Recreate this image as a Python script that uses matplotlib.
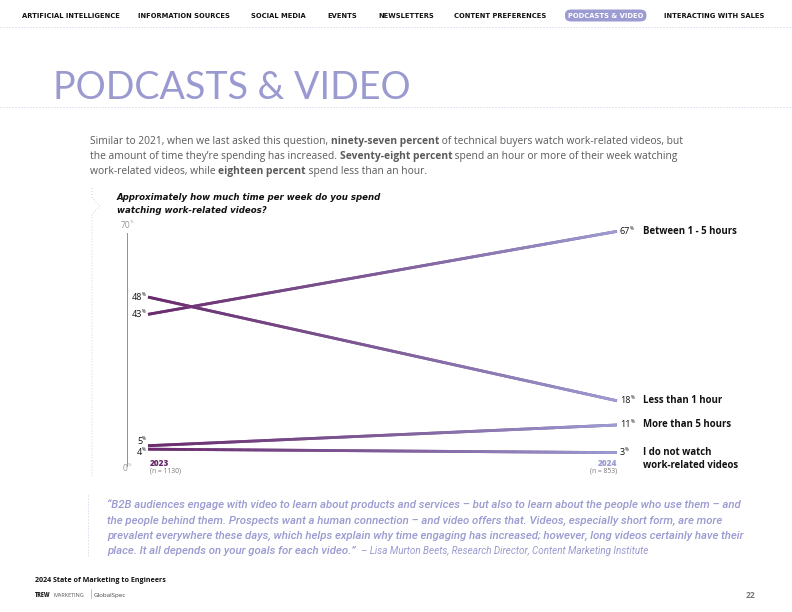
import matplotlib
matplotlib.use("Agg")
import matplotlib.pyplot as plt
import numpy as np
from matplotlib.collections import LineCollection
from matplotlib.colors import LinearSegmentedColormap
from matplotlib.patches import FancyBboxPatch

# data
categories = ["Between 1 - 5 hours", "Less than 1 hour", "More than 5 hours",
              "I do not watch\nwork-related videos"]
values_2023 = [43, 48, 5, 4]
values_2024 = [67, 18, 11, 3]
years = ["2023", "2024"]
sample_sizes = ["(n = 1130)", "(n = 853)"]
nav_items = ["ARTIFICIAL INTELLIGENCE", "INFORMATION SOURCES", "SOCIAL MEDIA", "EVENTS",
             "NEWSLETTERS", "CONTENT PREFERENCES", "PODCASTS & VIDEO", "INTERACTING WITH SALES"]
nav_x = [22, 138, 251, 327, 378, 454, 568, 664]

DARK = "#6a2a6c"
MID = "#7f5c98"
LIGHT = "#9c9cd3"
GRAY = "#5a5a5a"
QUOTE = "#9a9ad1"
W, H = 792, 612

plt.rcParams["font.family"] = ["Open Sans", "DejaVu Sans"]
fig = plt.figure(figsize=(W / 72, H / 72), dpi=72)
renderer = fig.canvas.get_renderer()


def fx(x):
    return x / W


def fy(y):
    return 1 - y / H


def text_runs(x, y, runs, width=None, size=10, **kw):
    """draw (string, weight) runs on one baseline, pixel coords; scale to a target width"""
    arts = [fig.text(fx(x), fy(y), s, fontweight=wt, fontsize=size, va="baseline",
                     ha="left", **kw) for s, wt in runs]
    if width:
        total = sum(a.get_window_extent(renderer).width for a in arts)
        for a in arts:
            a.set_fontsize(size * width / total)
    for a in arts:
        a.set_x(fx(x))
        x += a.get_window_extent(renderer).width
    return arts


def dotted(xs, ys, color="#cfcfe9"):
    fig.add_artist(plt.Line2D([fx(v) for v in xs], [fy(v) for v in ys], color=color,
                              lw=1.0, ls=(0, (1, 2)), transform=fig.transFigure))


# nav bar
nav_font = ["Liberation Sans Narrow", "DejaVu Sans"]
probe = fig.text(0, 0, nav_items[0], fontsize=8, fontweight="bold", family=nav_font)
nav_size = 8 * 98 / probe.get_window_extent(renderer).width
probe.remove()
for name, x in zip(nav_items, nav_x):
    active = name == "PODCASTS & VIDEO"
    t = fig.text(fx(x), fy(18), name, fontsize=nav_size, fontweight="bold", va="baseline",
                 color="white" if active else "#111111", family=nav_font)
    if active:
        bb = t.get_window_extent(renderer)
        fig.add_artist(FancyBboxPatch((fx(bb.x0 - 3), fy(21.5)), (bb.width + 6) / W, 12 / H,
                                      boxstyle="round,pad=0,rounding_size=0.008",
                                      transform=fig.transFigure, fc=LIGHT, ec="none", zorder=0))
dotted([0, W], [27, 27])

# title
text_runs(53, 99, [("PODCASTS & VIDEO", "normal")], width=358, size=36,
          color=QUOTE, family=["Lato", "DejaVu Sans"])
dotted([0, W], [107, 107])

# intro paragraph
a = text_runs(90, 144, [("Similar to 2021, when we last asked this question, ", "normal"),
                        ("ninety-seven percent", "bold"),
                        (" of technical buyers watch work-related videos, but", "normal")],
              width=590, size=10.5, color=GRAY)
bsize = a[0].get_fontsize()
text_runs(90, 159, [("the amount of time they\u2019re spending has increased. ", "normal"),
                    ("Seventy-eight percent", "bold"),
                    (" spend an hour or more of their week watching", "normal")],
          size=bsize, color=GRAY)
text_runs(90, 174, [("work-related videos, while ", "normal"),
                    ("eighteen percent", "bold"),
                    (" spend less than an hour.", "normal")], size=bsize, color=GRAY)

# question
qs = dict(style="italic", color="#111111", family=["DejaVu Sans"])
a = text_runs(117, 200, [("Approximately how much time per week do you spend", "bold")],
              width=266, size=9, **qs)
text_runs(117, 213, [("watching work-related videos?", "bold")],
          size=a[0].get_fontsize(), **qs)

# decorative dotted bracket
dotted([92, 92, 100, 92, 92], [188, 198, 206, 214, 476])

# chart axes: x=0 -> 2023 at 148px, x=1 -> 2024 at 617px ; y=0 at 463px, y=70 at 221px
ax_l, ax_r, ax_t, ax_b = 127, 617, 221, 463
ax = fig.add_axes([fx(ax_l), fy(ax_b), (ax_r - ax_l) / W, (ax_b - ax_t) / H])
x0 = -(148 - 127) / (617 - 148)
ax.set_xlim(x0, 1)
ax.set_ylim(0, 70)
ax.axis("off")

ax.plot([x0, x0], [-1.0, 66.5], color="#888888", lw=0.9, clip_on=False)

cmap = LinearSegmentedColormap.from_list("pv", [DARK, MID, LIGHT])
for v0, v1 in zip(values_2023, values_2024):
    # solid base stroke hides seams between gradient pieces
    ax.plot([0, 1], [v0, v1], color=MID, lw=2.8, solid_capstyle="butt", clip_on=False)
    xs = np.linspace(0, 1, 60)
    ys = v0 + (v1 - v0) * xs
    pts = np.column_stack([xs, ys]).reshape(-1, 1, 2)
    segs = np.concatenate([pts[:-1], pts[1:]], axis=1)
    lc = LineCollection(segs, cmap=cmap, linewidth=2.8, capstyle="butt", clip_on=False)
    lc.set_array(xs[:-1])
    ax.add_collection(lc)


def pct_label(xd, yd, val, side, dy=0.0, color="#111111", size=9):
    num = ax.text(0, 0, str(val), fontsize=size, color=color, va="center")
    pct = ax.text(0, 0, "%", fontsize=size * 0.5, color=color, va="center")
    wn = num.get_window_extent(renderer).width
    wp = pct.get_window_extent(renderer).width
    base = ax.transData.transform((xd, yd))
    by = base[1] + dy
    if side == "left":
        xn = base[0] - 2 - wp - wn
    elif side == "center":
        xn = base[0] - (wn + wp) / 2
    else:
        xn = base[0] + 3
    inv = ax.transData.inverted()
    num.set_position(inv.transform((xn, by)))
    pct.set_position(inv.transform((xn + wn, by + 3)))


# axis end labels
pct_label(x0, 68.7, 70, "center", color="#999999", size=8.5)
pct_label(x0, -1.5, 0, "center", color="#999999", size=8.5)

# 2023 labels, nudged apart where they would collide
order = np.argsort(values_2023)
pix = [ax.transData.transform((0, v))[1] for v in values_2023]
shift = [0.0] * len(values_2023)
for i, j in zip(order[:-1], order[1:]):
    gap = pix[j] - pix[i]
    if gap < 11:
        shift[i] -= (11 - gap) / 2
        shift[j] += (11 - gap) / 2
for v, s in zip(values_2023, shift):
    pct_label(0, v, v, "left", dy=s)

for v, cat in zip(values_2024, categories):
    pct_label(1, v, v, "right")
    multi = "\n" in cat
    ax.annotate(cat, (1, v), xytext=(26, 6 if multi else 0), textcoords="offset points",
                fontsize=9.6, fontweight="bold", color="#111111",
                va="top" if multi else "center", ha="left", linespacing=1.3,
                annotation_clip=False)

# year markers
ax.annotate(years[0], (0, 0), xytext=(2, -0.5), textcoords="offset points", fontsize=8.3,
            fontweight="heavy", color=DARK, ha="left", va="center", annotation_clip=False)
ax.annotate(sample_sizes[0], (0, 0), xytext=(2, -8.5), textcoords="offset points", fontsize=6.8,
            color="#777777", ha="left", va="center", annotation_clip=False)
ax.annotate(years[1], (1, 0), xytext=(0, -0.5), textcoords="offset points", fontsize=8.3,
            fontweight="heavy", color=LIGHT, ha="right", va="center", annotation_clip=False)
ax.annotate(sample_sizes[1], (1, 0), xytext=(0, -8.5), textcoords="offset points", fontsize=6.8,
            color="#777777", ha="right", va="center", annotation_clip=False)

# quote
dotted([88, 88], [495, 557])
qkw = dict(style="italic", color=QUOTE, family=["Roboto", "Open Sans", "DejaVu Sans"])
quote_lines = [
    "\u201cB2B audiences engage with video to learn about products and services \u2013 but also to learn about the people who use them \u2013 and",
    "the people behind them. Prospects want a human connection \u2013 and video offers that. Videos, especially short form, are more",
    "prevalent everywhere these days, which helps explain why time engaging has increased; however, long videos certainly have their",
]
first = text_runs(107, 508, [(quote_lines[0], 500)], width=636, size=10, **qkw)[0]
qsize = first.get_fontsize()
for i, line in enumerate(quote_lines[1:], start=1):
    text_runs(107, 508 + 15.5 * i, [(line, 500)], size=qsize, **qkw)
end = text_runs(107, 554.5, [("place. It all depends on your goals for each video.\u201d", 500)],
                size=qsize, **qkw)
bb = end[0].get_window_extent(renderer)
text_runs(bb.x1 + 5, 554.5,
          [("\u2013 Lisa Murton Beets, Research Director, Content Marketing Institute", "normal")],
          width=648 - bb.x1 - 5, size=8, **qkw)

# footer
text_runs(35, 582, [("2024 State of Marketing to Engineers", "bold")], width=132, size=7.5,
          color="#111111")
fig.text(fx(35), fy(597), "TREW", fontsize=5.5, fontweight="heavy", color="#222222", va="baseline")
fig.text(fx(53), fy(597), "MARKETING", fontsize=5.5, color="#555555", va="baseline")
fig.add_artist(plt.Line2D([fx(91), fx(91)], [fy(589), fy(598)], color="#999999", lw=0.6,
                          transform=fig.transFigure))
fig.text(fx(94), fy(597), "GlobalSpec", fontsize=6.3, color="#444444", va="baseline")
fig.text(fx(755), fy(598), "22", fontsize=8.5, fontweight="bold", color="#777777",
         va="baseline", ha="right")

fig.savefig("out.png", dpi=72)
